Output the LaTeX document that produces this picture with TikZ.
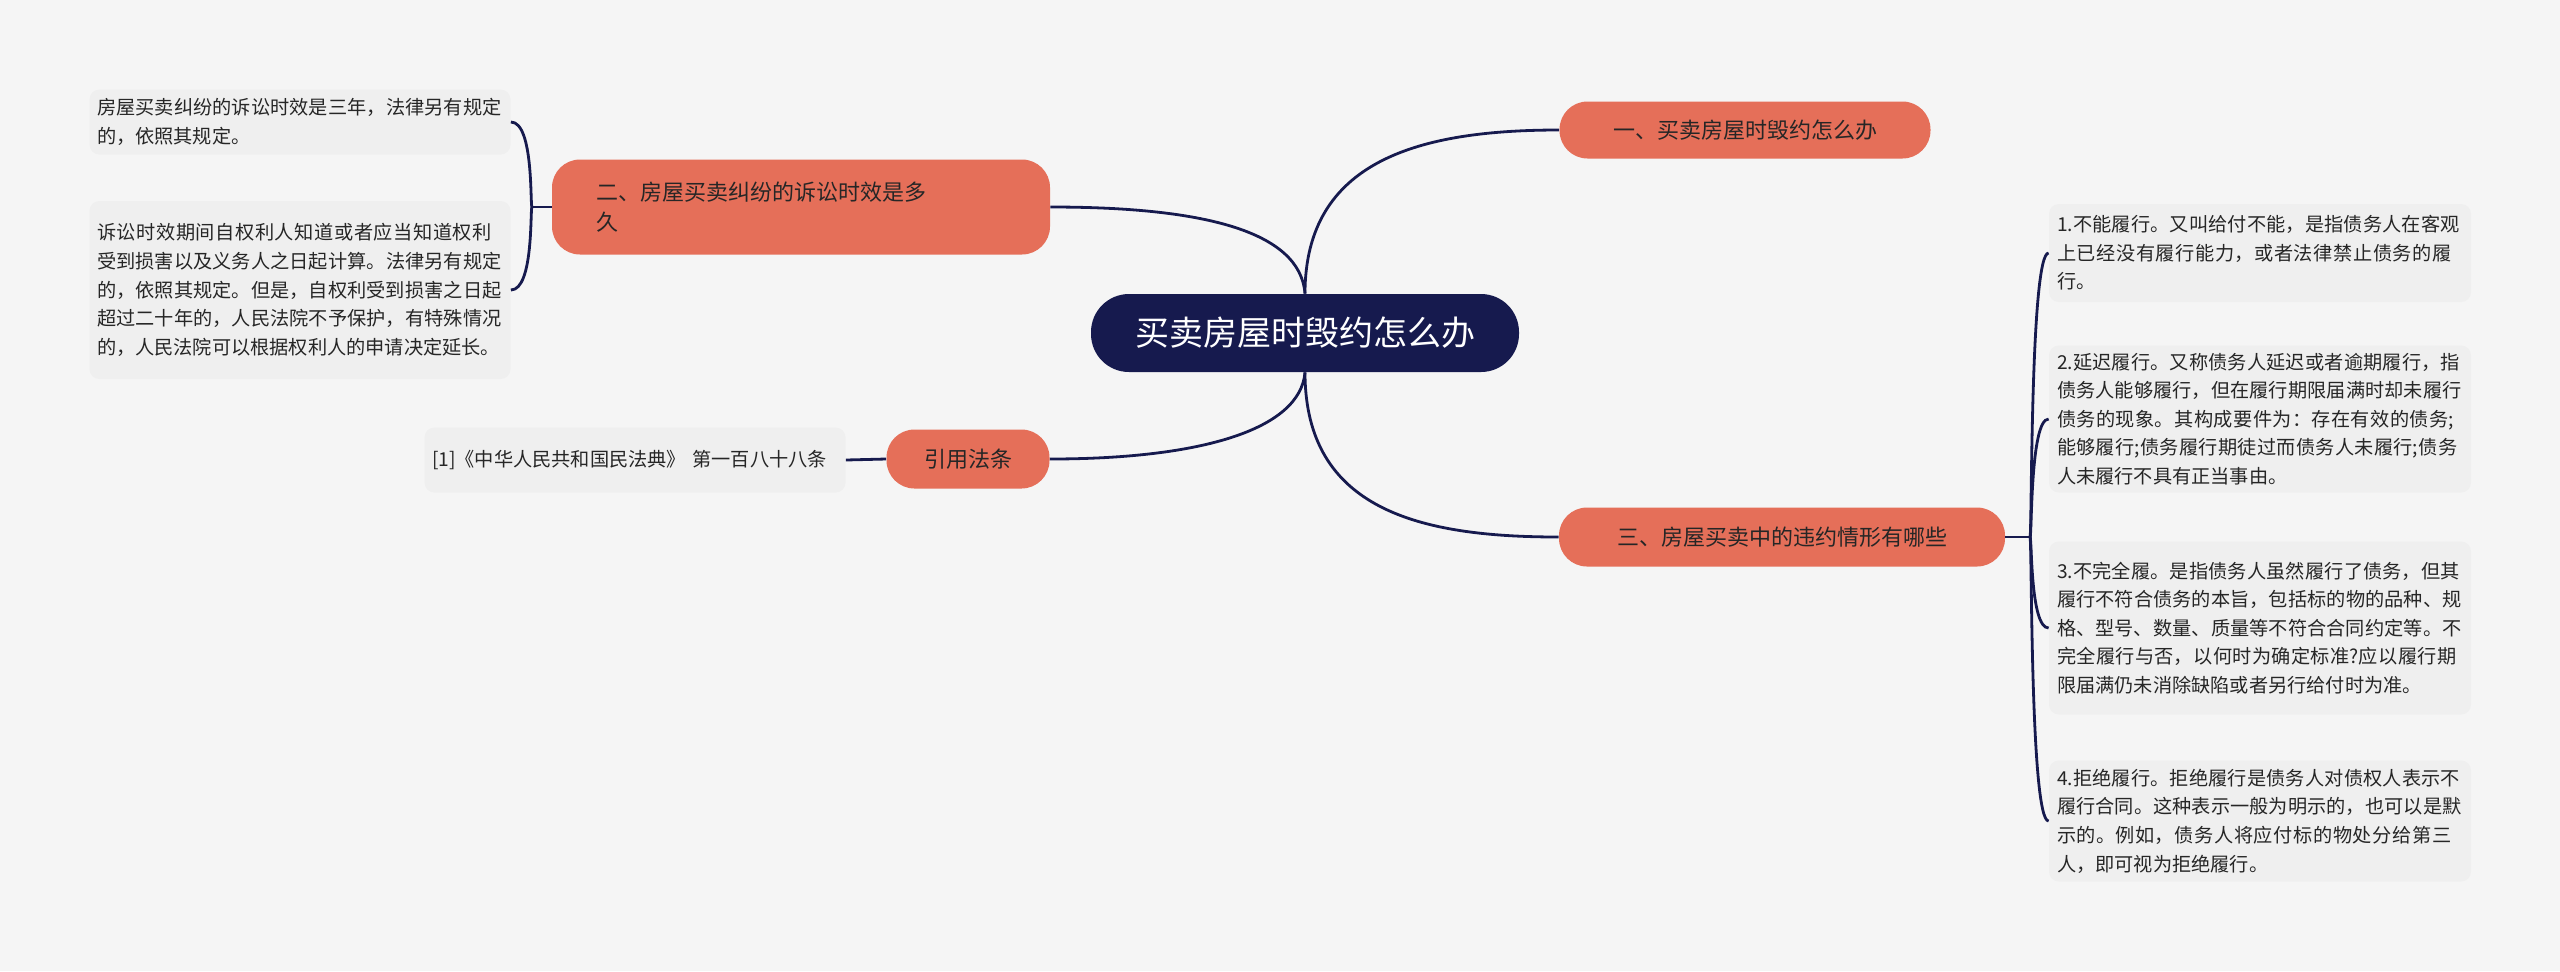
\documentclass[tikz,border=0pt]{standalone}
\usepackage{fontspec}
\setmainfont{Noto Sans CJK SC}
\XeTeXlinebreaklocale "zh"
\XeTeXlinebreakskip=0pt plus 1pt
\begin{document}
\begin{tikzpicture}[x=0.5pt,y=-0.5pt,
  conn/.style={draw=navy,line width=1.4pt},
  branchbox/.style={fill=branch,rounded corners=14pt,text=black!85,font=\fontsize{11}{14}\selectfont,inner sep=0pt,align=left},
  leafbox/.style={fill=leaf,rounded corners=5pt,text=black!85,font=\fontsize{9.6}{14.3}\selectfont,inner sep=0pt,align=left,text width=203pt}]
\definecolor{navy}{HTML}{161A4E}
\definecolor{branch}{HTML}{E56F59}
\definecolor{leaf}{HTML}{EFEFEF}
\definecolor{bg}{HTML}{F5F5F5}
\fill[bg] (0,0) rectangle (2560,971);
\useasboundingbox (0,0) rectangle (2560,971);
% center
\node[fill=navy,rounded corners=19pt,text=white,font=\fontsize{17}{20}\selectfont,minimum width=214pt,minimum height=39pt,inner sep=0pt] (c) at (1305,333) {买卖房屋时毁约怎么办};
% branches
\node[branchbox,minimum width=185.5pt,minimum height=28.5pt,align=center] (b1) at (1745,130) {一、买卖房屋时毁约怎么办};
\node[branchbox,minimum width=249pt,minimum height=47.5pt,text width=205pt,font=\fontsize{11}{15}\selectfont] (b2) at (801,207) {二、房屋买卖纠纷的诉讼时效是多\\久};
\node[branchbox,minimum width=81.5pt,minimum height=29.5pt,align=center] (b4) at (968,459) {引用法条};
\node[branchbox,minimum width=223pt,minimum height=29.5pt,align=center] (b3) at (1782,537) {三、房屋买卖中的违约情形有哪些};
% right leaves
\node[leafbox,minimum width=211pt,minimum height=49pt] (r1) at (2260,253) {1.不能履行。又叫给付不能，是指债务人在客观上已经没有履行能力，或者法律禁止债务的履行。};
\node[leafbox,minimum width=211pt,minimum height=73.5pt] (r2) at (2260,419) {2.延迟履行。又称债务人延迟或者逾期履行，指债务人能够履行，但在履行期限届满时却未履行债务的现象。其构成要件为：存在有效的债务;能够履行;债务履行期徒过而债务人未履行;债务人未履行不具有正当事由。};
\node[leafbox,minimum width=211pt,minimum height=86.5pt] (r3) at (2260,628) {3.不完全履。是指债务人虽然履行了债务，但其履行不符合债务的本旨，包括标的物的品种、规格、型号、数量、质量等不符合合同约定等。不完全履行与否，以何时为确定标准?应以履行期限届满仍未消除缺陷或者另行给付时为准。};
\node[leafbox,minimum width=211pt,minimum height=60.5pt] (r4) at (2260,821) {4.拒绝履行。拒绝履行是债务人对债权人表示不履行合同。这种表示一般为明示的，也可以是默示的。例如，债务人将应付标的物处分给第三人，即可视为拒绝履行。};
% left leaves
\node[leafbox,minimum width=210.5pt,minimum height=32.5pt] (l1) at (300,122) {房屋买卖纠纷的诉讼时效是三年，法律另有规定的，依照其规定。};
\node[leafbox,minimum width=210.5pt,minimum height=89pt] (l2) at (300,290) {诉讼时效期间自权利人知道或者应当知道权利受到损害以及义务人之日起计算。法律另有规定的，依照其规定。但是，自权利受到损害之日起超过二十年的，人民法院不予保护，有特殊情况的，人民法院可以根据权利人的申请决定延长。};
\node[leafbox,minimum width=210.5pt,minimum height=32.5pt] (l3) at (635,460) {[1]《中华人民共和国民法典》 第一百八十八条};
% connectors
\draw[conn] (c.north) .. controls (1305,160) and (1420,130) .. (b1.west);
\draw[conn] (c.north) .. controls (1300,230) and (1200,207) .. (b2.east);
\draw[conn] (c.south) .. controls (1305,510) and (1420,537) .. (b3.west);
\draw[conn] (c.south) .. controls (1300,430) and (1200,459) .. (b4.east);
\coordinate (jr) at (2030,537);
\draw[conn] (b3.east) -- (jr);
\foreach \n in {r1,r2,r3,r4}{\draw[conn] (jr) .. controls (2032,537) and (2030,0|-\n.west) .. (\n.west);}
\coordinate (jl) at (532,207);
\draw[conn] (b2.west) -- (jl);
\draw[conn] (jl) .. controls (530,207) and (534,122) .. (l1.east);
\draw[conn] (jl) .. controls (530,207) and (534,290) .. (l2.east);
\draw[conn] (b4.west) -- (l3.east);
\end{tikzpicture}
\end{document}
